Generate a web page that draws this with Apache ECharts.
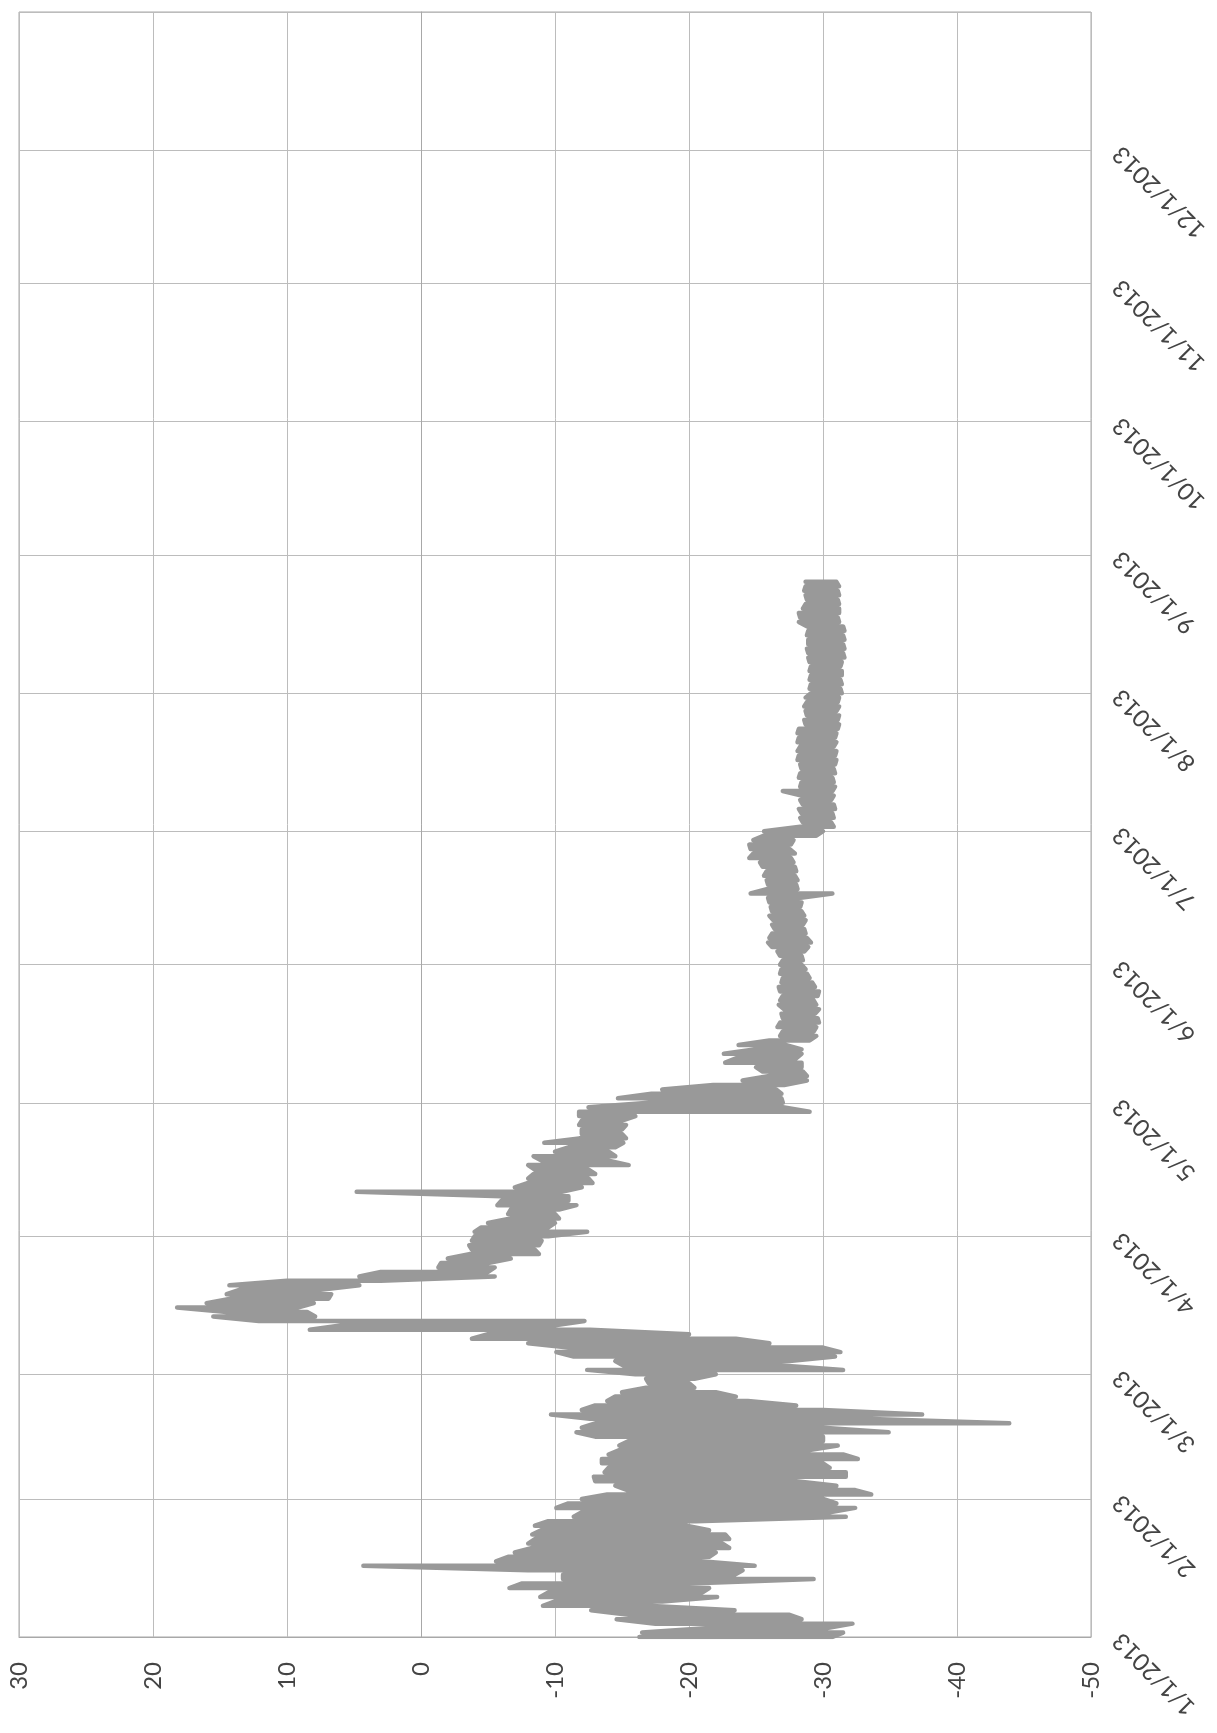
<!DOCTYPE html>
<html><head><meta charset="utf-8">
<script src="https://cdn.jsdelivr.net/npm/echarts@6/dist/echarts.min.js"></script>
<style>html,body{margin:0;padding:0;background:#fff}#c{width:1217px;height:1733px}</style>
</head><body><div id="c"></div>
<script>
// Daily readings starting 1/1/2013: highest and lowest value of each day
const startYear = 2013;
const hiVals = [
-16.3,-16.5,-21.5,-17.5,-14.6,-15.5,-12.7,-9.1,-10,-8.9,
-9.5,-6.6,-7.5,-10.6,-10.6,-8.0,4.3,-5.6,-6.5,-7.0,
-8.3,-8.0,-8.5,-8.3,-9.0,-8.5,-9.5,-11.4,-12.0,-10.1,
-11.0,-12.0,-13.9,-15.4,-14.5,-13.0,-12.9,-13.7,-14.0,-13.5,
-13.5,-14.0,-14.8,-14.8,-15.5,-13.0,-11.6,-12.0,-13.0,-12.6,
-9.7,-12.0,-13.0,-13.9,-14.5,-15.0,-16.8,-17.0,-16.8,-16.0,
-12.4,-15.1,-14.5,-11.4,-10.1,-11.0,-8.0,-3.8,-5.0,8.3,
6.0,12.1,15.5,14.5,18.2,16.0,14.2,14.5,13.5,14.3,
10.0,4.6,3.0,-1.3,-1.5,-2.0,-3.6,-3.8,-3.6,-3.8,
-4.0,-4.0,-4.5,-5.0,-6.7,-6.5,-6.7,-5.7,-6.0,-6.0,
4.8,-7.0,-8.0,-8.0,-8.4,-8.5,-8.0,-9.0,-8.4,-10.0,
-11.0,-9.2,-11.8,-12.0,-12.0,-11.8,-12.0,-11.8,-11.8,-12.5,
-17.0,-14.7,-17.2,-18.0,-21.8,-24.0,-26.0,-25.5,-25.0,-22.7,
-23.5,-22.6,-25.0,-23.7,-26.0,-26.8,-27.0,-26.6,-26.8,-27.0,
-26.9,-27.1,-26.7,-26.8,-27.0,-26.8,-26.7,-26.9,-27.0,-26.8,
-26.9,-26.8,-27.0,-26.8,-26.6,-26.2,-25.9,-26.0,-26.2,-26.4,
-26.2,-26.3,-26.0,-26.2,-26.1,-26.0,-25.9,-24.6,-25.8,-25.9,
-25.8,-25.6,-25.8,-25.5,-25.3,-24.5,-24.8,-24.6,-24.5,-24.8,
-25.6,-25.6,-28.3,-28.5,-28.3,-28.4,-28.2,-28.5,-28.3,-28.4,
-27.0,-28.3,-28.4,-28.2,-28.3,-28.4,-28.3,-28.1,-28.2,-28.1,
-28.3,-28.1,-28.2,-28.1,-28.2,-28.7,-28.6,-28.8,-28.7,-28.6,
-28.8,-28.7,-29.1,-29.0,-29.1,-29.0,-29.1,-29.0,-29.1,-29.0,
-28.9,-28.9,-28.8,-28.9,-28.9,-28.8,-28.9,-28.8,-28.2,-28.3,
-28.2,-28.5,-28.7,-28.8,-28.7,-28.6,-28.7,-28.7
];
const loVals = [
-30.7,-31.5,-30.3,-32.2,-28.4,-27.5,-23.4,-16.9,-18,-22.1,
-21,-21.5,-20,-29.3,-23.4,-24.0,-24.9,-20.9,-21.5,-22.0,
-23.0,-22.5,-23.0,-22.7,-21.5,-19.8,-20.5,-31.7,-30.5,-32.4,
-31.0,-30.0,-33.6,-32.4,-31.0,-28.0,-31.7,-31.7,-30.5,-30.0,
-32.6,-31.5,-29.0,-31.1,-30.0,-30.0,-34.9,-30.0,-43.9,-33.0,
-37.4,-30.0,-28.0,-24.4,-23.5,-22.0,-20.4,-20.0,-20.4,-22.0,
-31.5,-26.9,-27.5,-30.9,-31.3,-30.0,-26.0,-23.5,-20.0,-12.6,
-10.0,-12.2,7.9,8.5,9.2,8.0,6.9,6.7,7.5,4.6,
3.0,-5.5,-5.0,-5.5,-5.0,-6.7,-8.8,-8.5,-8.8,-9.0,
-9.5,-12.4,-9.5,-10.0,-10.3,-10.0,-10.3,-11.6,-11.0,-11.0,
-10.5,-12.0,-12.8,-12.5,-13.0,-12.5,-15.5,-14.0,-14.5,-14.0,
-14.5,-15.1,-15.3,-15.0,-15.0,-15.3,-15.0,-16.0,-29.0,-27.0,
-27.0,-26.9,-26.9,-26.5,-27.1,-28.8,-28.8,-28.5,-28.4,-28.4,
-28.0,-28.4,-28.4,-27.2,-29.0,-29.5,-29.3,-29.5,-29.7,-29.6,
-29.4,-29.7,-29.5,-29.3,-29.6,-29.7,-29.4,-29.2,-29.0,-28.8,
-28.7,-28.4,-28.5,-28.4,-28.6,-28.9,-29.1,-28.8,-28.7,-28.6,
-28.5,-28.7,-28.6,-28.4,-28.3,-28.4,-28.2,-30.7,-28.1,-28.0,
-28.1,-27.9,-28.0,-27.9,-27.8,-27.6,-27.9,-27.5,-27.6,-27.8,
-29.5,-30.0,-30.8,-30.6,-30.8,-30.7,-30.9,-30.8,-30.6,-30.8,
-30.7,-30.9,-30.8,-30.7,-30.9,-30.8,-30.9,-31.0,-30.9,-31.0,
-30.8,-31.0,-30.9,-31.0,-31.1,-31.2,-31.1,-31.2,-31.0,-31.2,
-31.1,-31.2,-31.4,-31.3,-31.4,-31.3,-31.4,-31.4,-31.3,-31.4,
-31.6,-31.5,-31.6,-31.5,-31.6,-31.5,-31.6,-31.5,-31.2,-31.1,
-31.2,-31.2,-31.2,-31.1,-31.2,-31.1,-31.2,-31.0
];
const valueMin = -50, valueMax = 30, valueStep = 10;

const points = [];
for (let d = 0; d < hiVals.length; d++) {
  const t = new Date(startYear, 0, 1 + d).getTime();
  const pair = d % 2 === 0 ? [hiVals[d], loVals[d]] : [loVals[d], hiVals[d]];
  points.push([pair[0], t]);
  points.push([pair[1], t]);
}

const chart = echarts.init(document.getElementById('c'), null, {renderer: 'canvas'});
const gridColor = '#bcbcbc';
chart.setOption({
  animation: false,
  backgroundColor: '#ffffff',
  grid: {left: 19, right: 126, top: 12, bottom: 96, show: true, borderColor: '#a8a8a8', borderWidth: 1},
  xAxis: {
    type: 'value', min: valueMin, max: valueMax, interval: valueStep, inverse: true, position: 'bottom',
    axisLine: {show: true, lineStyle: {color: '#a8a8a8'}},
    axisTick: {show: false},
    axisLabel: {rotate: 90, margin: 25, fontFamily: 'Lato', fontSize: 24, color: '#444444'},
    splitLine: {show: true, lineStyle: {color: gridColor, width: 1}}
  },
  yAxis: {
    type: 'time', position: 'right',
    min: new Date(startYear, 0, 1).getTime(), max: new Date(startYear + 1, 0, 1).getTime(),
    splitNumber: 12, minInterval: 28 * 864e5, maxInterval: 31 * 864e5,
    axisLine: {show: true, lineStyle: {color: '#a8a8a8'}},
    axisTick: {show: false},
    axisLabel: {
      rotate: 135, align: 'right', verticalAlign: 'middle', margin: 26,
      fontFamily: 'Lato', fontSize: 24, color: '#444444', showMaxLabel: false,
      formatter: function (v) { const d = new Date(v); return (d.getMonth() + 1) + '/' + d.getDate() + '/' + d.getFullYear(); }
    },
    splitLine: {show: true, lineStyle: {color: gridColor, width: 1}}
  },
  series: [{
    type: 'line', data: points, showSymbol: false, symbol: 'none',
    lineStyle: {color: '#999999', width: 4.5, cap: 'round', join: 'round'}
  }]
});
</script></body></html>
